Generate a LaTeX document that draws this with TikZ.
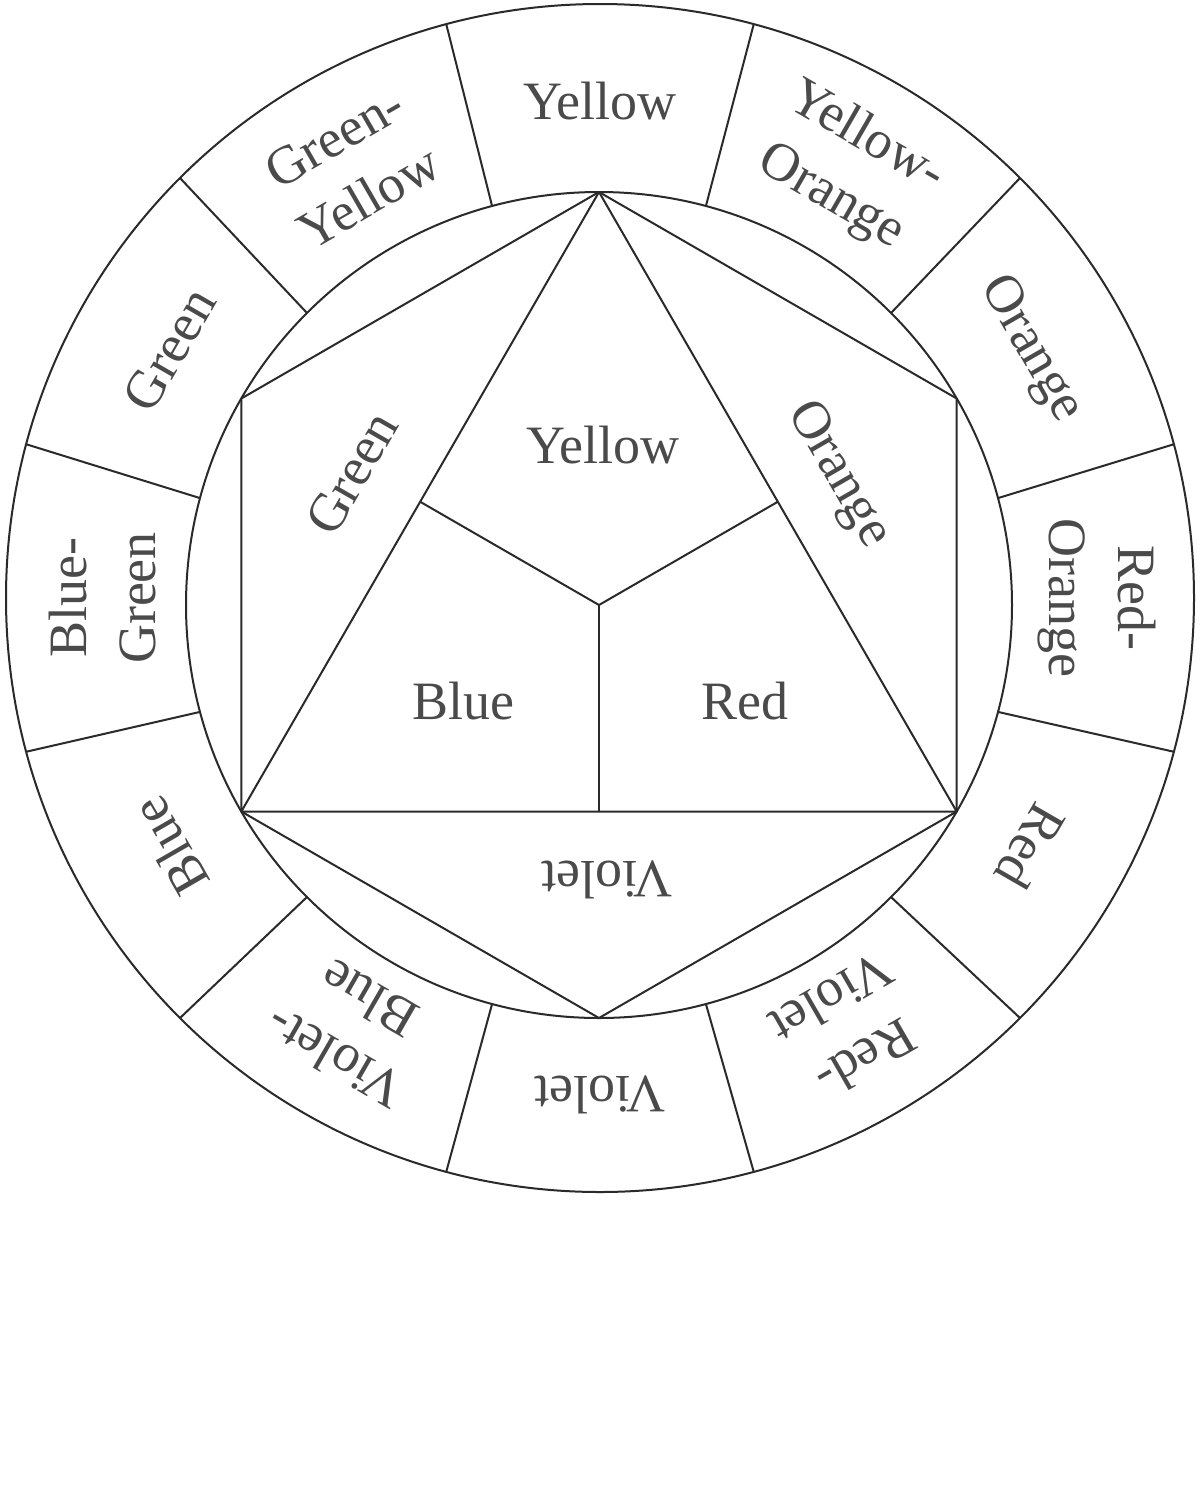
\documentclass[tikz,border=0pt]{standalone}
\usepackage{fontspec}
\setmainfont{Liberation Serif}
\usetikzlibrary{calc}
\definecolor{linecol}{HTML}{2A2A2A}
\definecolor{textcol}{HTML}{4A4A4A}
\tikzset{
  ln/.style={draw=linecol, line width=2pt, line join=round},
  lbl/.style={text=textcol, inner sep=0pt, align=center, font=\fontsize{54}{69}\selectfont},
}
\begin{document}
\begin{tikzpicture}[x=1pt,y=1pt]
\useasboundingbox[fill=white] (0,0) rectangle (1200,-1492);
\coordinate (O) at (600,-598);
\coordinate (I) at (599,-605);
% circles
\draw[ln] (O) circle (594);
\draw[ln] (I) circle (413);
% dividers of the ring
\foreach \a in {15,45,...,345}{
  \draw[ln] ($(I)+(\a:413)$) -- ($(O)+(\a:594)$);
}
% hexagon vertices
\coordinate (h90) at ($(I)+(90:413)$);
\coordinate (h150) at ($(I)+(150:413)$);
\coordinate (h210) at ($(I)+(210:413)$);
\coordinate (h270) at ($(I)+(270:413)$);
\coordinate (h330) at ($(I)+(330:413)$);
\coordinate (h30) at ($(I)+(30:413)$);
\draw[ln] (h90) -- (h150) -- (h210) -- (h270) -- (h330) -- (h30) -- cycle;
% triangle
\draw[ln] (h90) -- (h210) -- (h330) -- cycle;
% inner Y
\coordinate (ml) at ($(h90)!0.5!(h210)$);
\coordinate (mr) at ($(h90)!0.5!(h330)$);
\coordinate (mb) at ($(h210)!0.5!(h330)$);
\draw[ln] (ml) -- (I) -- (mr);
\draw[ln] (I) -- (mb);
% outer labels
\foreach \t/\txt in {0/Yellow, 30/{Yellow-\\Orange}, 60/Orange, 90/{Red-\\Orange}, 120/Red, 150/{Red-\\Violet}, 180/Violet, 210/{Violet-\\Blue}, 240/Blue, 270/{Blue-\\Green}, 300/Green, 330/{Green-\\Yellow}}{
  \node[lbl, rotate=-\t] (o\t) at ($(O)+(90-\t:497)$) {\txt};
}
% inner labels
\node[lbl] (iy) at (603,-445) {Yellow};
\node[lbl] (ib) at (463,-701) {Blue};
\node[lbl] (ir) at (745,-701) {Red};
\node[lbl, rotate=180] (iv) at (607,-880) {Violet};
\node[lbl, rotate=60] (ig) at (352,-473) {Green};
\node[lbl, rotate=-60] (io) at (838,-475) {Orange};
\end{tikzpicture}
\end{document}
